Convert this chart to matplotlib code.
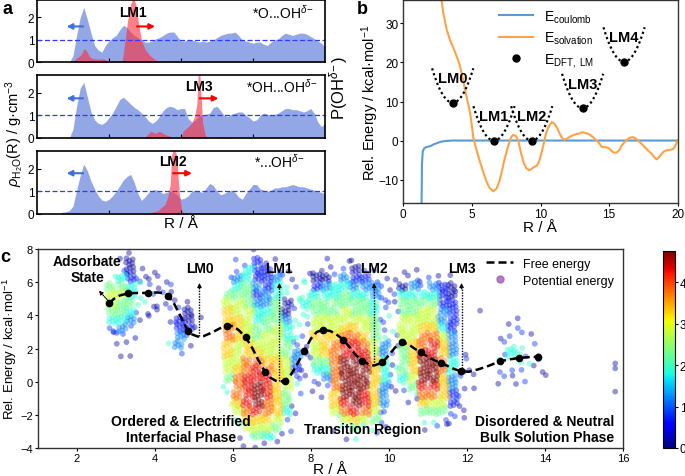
import numpy as np
import matplotlib
matplotlib.use("Agg")
import matplotlib.pyplot as plt
from matplotlib.colors import Normalize
from matplotlib.cm import ScalarMappable
from matplotlib.lines import Line2D

plt.rcParams['font.family'] = ['Liberation Sans', 'DejaVu Sans']
plt.rcParams['mathtext.fontset'] = 'custom'
plt.rcParams['mathtext.rm'] = 'Liberation Sans'
plt.rcParams['mathtext.it'] = 'Liberation Sans:italic'
plt.rcParams['mathtext.bf'] = 'Liberation Sans:bold'

# ---------------- panel a data ----------------
R_a = np.arange(1.5, 20.01, 0.25)
rho_O = [0, 0, 0, 0, 0.3, 1.2, 2.0, 2.45, 1.9, 1.3, 0.75, 0.55, 0.45, 0.75, 0.95, 1.1,
         1.2, 1.45, 1.65, 1.55, 1.35, 1.2, 1.1, 1.0, 0.9, 0.9, 0.95, 1.05, 1.1, 1.2, 1.3, 1.35,
         1.35, 1.15, 0.95, 0.95, 1.0, 1.0, 0.95, 0.9, 0.95, 0.9, 0.95, 1.0, 1.1, 1.2, 1.25, 1.3,
         1.3, 1.35, 1.2, 1.0, 0.95, 0.9, 0.85, 0.9, 0.9, 0.8, 0.75, 0.9, 1.0, 1.05, 1.2, 1.3,
         1.25, 1.2, 1.25, 1.3, 1.3, 1.25, 1.15, 1.05, 0.95, 0.85, 0.7]
rho_OH = [0, 0, 0, 0, 0.4, 1.4, 2.2, 2.45, 1.8, 1.15, 0.8, 0.65, 0.6, 0.7, 0.9, 1.1,
          1.4, 1.7, 1.8, 1.65, 1.5, 1.35, 1.25, 1.1, 0.95, 0.75, 0.65, 0.75, 0.95, 1.2, 1.35, 1.4,
          1.35, 1.25, 1.3, 1.3, 0.85, 0.7, 0.8, 1.0, 1.0, 1.05, 1.1, 1.35, 1.4, 1.2, 1.0, 0.95,
          1.05, 1.1, 1.15, 1.15, 1.0, 0.9, 0.75, 0.8, 1.0, 1.1, 1.05, 1.0, 1.05, 1.1, 1.2, 1.3,
          1.3, 1.25, 1.25, 1.2, 1.15, 1.2, 1.3, 1.1, 0.7, 0.5, 0.65]
rho_clean = [0, 0.08, 0.1, 0.15, 0.35, 1.05, 1.7, 2.2, 1.9, 1.45, 1.1, 0.8, 0.62, 0.57, 0.65, 0.8,
             1.0, 1.25, 1.5, 1.65, 1.75, 1.4, 0.9, 0.6, 0.75, 0.95, 1.05, 1.07, 1.0, 0.9, 0.95, 1.0,
             0.95, 0.85, 0.65, 0.7, 0.8, 1.0, 1.05, 1.0, 0.95, 1.15, 1.35, 1.25, 1.0, 0.85, 0.9, 1.0,
             1.05, 0.95, 0.75, 0.65, 0.9, 1.1, 1.3, 1.3, 1.1, 1.05, 1.0, 1.05, 1.15, 1.15, 1.2, 1.2,
             1.25, 1.3, 1.25, 1.2, 1.2, 1.15, 1.1, 1.05, 1.0, 0.95, 0.9]

P1_R = [2.5, 2.75, 3.0, 3.1, 3.3, 3.5, 3.6, 3.75, 4.0, 4.5, 4.75, 4.9, 5.9, 6.0, 6.1, 6.3,
        6.5, 6.7, 6.9, 7.05, 7.25, 7.5, 7.85, 8.2, 8.55]
P1_v = [0, 0.2, 0.3, 0.4, 0.62, 0.45, 0.3, 0.2, 0.15, 0.15, 0.12, 0, 0, 0.4, 0.9, 1.9,
        2.6, 2.9, 2.5, 1.75, 1.0, 0.58, 0.3, 0.12, 0]
P2_R = [7.5, 7.6, 7.9, 8.2, 8.5, 8.9, 9.2, 9.3, 10.0, 10.15, 10.5, 10.75, 10.95, 11.1, 11.2,
        11.3, 11.4, 11.5, 11.67, 11.8, 12.6, 13.0, 13.5, 13.7]
P2_v = [0, 0.1, 0.3, 0.2, 0.3, 0.15, 0.1, 0, 0, 0.3, 0.5, 0.66, 0.96, 1.5, 2.9,
        2.9, 1.8, 0.66, 0.15, 0, 0, 0.05, 0.03, 0]
P3_R = [7.7, 8.0, 8.4, 8.9, 9.1, 9.25, 9.35, 9.5, 9.7, 9.8, 9.9, 10.05, 10.2, 10.9]
P3_v = [0, 0.08, 0.15, 0.43, 0.8, 1.3, 2.6, 2.9, 2.6, 1.6, 0.8, 0.15, 0.03, 0]

# ---------------- panel b data ----------------
coul_R = [1.33, 1.36, 1.42, 1.52, 1.65, 2.0, 2.2, 2.5, 2.8, 3.2, 3.6, 20.0]
coul_E = [-17.0, -6.0, -2.8, -2.0, -1.7, -1.4, -1.0, -0.6, -0.25, -0.08, 0.0, 0.0]
solv_R = [2.75, 2.9, 3.16, 3.4, 3.65, 3.9, 4.13, 4.3, 4.5, 4.7, 4.86, 5.0, 5.1, 5.3, 5.59,
          5.85, 6.08, 6.3, 6.56, 6.8, 7.0, 7.17, 7.4, 7.65, 7.85, 8.0, 8.2, 8.38, 8.55, 8.75,
          8.95, 9.15, 9.35, 9.5, 9.72, 9.84, 10.0, 10.2, 10.4, 10.57, 10.81, 11.0, 11.18, 11.4,
          11.54, 11.71, 11.9, 12.15, 12.4, 12.64, 12.85, 13.0, 13.12, 13.3, 13.49, 13.7, 13.85,
          14.05, 14.22, 14.46, 14.7, 14.95, 15.15, 15.35, 15.55, 15.75, 15.92, 16.1, 16.28,
          16.5, 16.72, 16.95, 17.13, 17.35, 17.6, 17.85, 18.1, 18.3, 18.47, 18.65, 18.83, 19.0,
          19.2, 19.45, 19.7, 19.85, 20.0]
solv_E = [37, 33, 28.4, 25.8, 23.7, 21.5, 19.1, 16.5, 13.1, 9.8, 7.2, 3.8, 0.8, -2.0, -5.5,
          -8.3, -10.6, -12.2, -13.0, -12.3, -10.5, -8.0, -4.5, -1.3, 0.8, 1.45, 1.2, 0.0, -2.8, -5.5,
          -7.0, -7.6, -7.3, -6.8, -6.5, -5.8, -4.2, -1.3, 1.8, 3.4, 4.7, 4.4, 3.4, 1.8,
          0.85, 0.25, 0.4, 1.0, 1.4, 1.7, 1.8, 2.1, 2.1, 1.9, 1.7, 1.2, 0.85,
          0.1, -0.4, -1.6, -1.7, -1.9, -2.6, -3.1, -3.1, -2.4, -1.3, -0.5, 0.1,
          0.7, 0.9, 0.5, 0.0, -0.8, -1.7, -2.6, -3.4, -4.3, -4.8, -4.2, -3.4, -2.8,
          -2.5, -2.4, -2.1, -1.2, 0.0]
LM_names = ['LM0', 'LM1', 'LM2', 'LM3', 'LM4']
LM_R = [3.6, 6.61, 9.36, 13.07, 16.09]
LM_E = [9.7, 0.0, 0.0, 8.3, 20.2]

# ---------------- panel c data ----------------
fe_R = [2.82, 2.95, 3.1, 3.32, 3.55, 3.81, 4.05, 4.2, 4.33, 4.48, 4.62, 4.75, 4.84, 4.95, 5.1,
        5.25, 5.45, 5.65, 5.84, 6.0, 6.15, 6.33, 6.5, 6.65, 6.82, 6.95, 7.1, 7.2, 7.33, 7.45,
        7.6, 7.83, 8.0, 8.15, 8.32, 8.5, 8.65, 8.83, 9.0, 9.15, 9.32, 9.5, 9.62, 9.83, 10.0,
        10.15, 10.33, 10.5, 10.65, 10.82, 11.0, 11.15, 11.33, 11.5, 11.65, 11.85, 12.05, 12.3,
        12.55, 12.85, 13.1, 13.34, 13.6, 13.83]
fe_E = [4.73, 5.0, 5.2, 5.33, 5.35, 5.35, 5.38, 5.35, 5.19, 4.75, 4.1, 3.5, 3.08, 2.85, 2.72,
        2.75, 2.95, 3.2, 3.38, 3.35, 3.1, 2.67, 2.0, 1.3, 0.60, 0.25, 0.05, 0.0, 0.06, 0.3,
        0.85, 1.87, 2.6, 3.0, 3.13, 3.05, 2.85, 2.53, 2.05, 1.6, 1.26, 1.02, 0.97, 1.16, 1.6,
        2.05, 2.37, 2.25, 2.0, 1.77, 1.5, 1.3, 1.12, 0.95, 0.78, 0.62, 0.6, 0.75,
        0.95, 1.23, 1.35, 1.43, 1.48, 1.50]
fe_dot_R = [2.82, 3.32, 3.81, 4.33, 4.84, 5.84, 6.33, 6.82, 7.33, 7.83, 8.32, 8.83, 9.32,
            9.83, 10.33, 10.82, 11.33, 11.85, 12.85, 13.34, 13.83]
fe_dot_E = [4.73, 5.33, 5.35, 5.19, 3.08, 3.38, 2.67, 0.60, 0.06, 1.87, 3.13, 2.53, 1.26,
            1.16, 2.37, 1.77, 1.12, 0.62, 1.23, 1.43, 1.50]
LMc_names = ['LM0', 'LM1', 'LM2', 'LM3']
LMc_R = [5.14, 7.19, 9.62, 11.86]
LMc_E = [2.75, 0.05, 0.98, 0.65]

# Potential-energy point cloud, read as a density map:
# one string per R bin (0.25 A wide, from 2.5 A), one char per E bin (0.5 wide, from 8 down)
# digits = dense cell, colour level 0..9 ; letters = a few isolated points
cloud_R_start, cloud_dR, cloud_E_top, cloud_dE = 2.5, 0.25, 8.0, 0.5
cloud_cols = [
    ".... .... .... .... .... ....",  # 2.50
    "...c 4554 3Bp. .... .... ....",  # 2.75
    ".pb3 4544 32Bp p... .... ....",  # 3.00
    "p001 3343 2bpp p... .... ....",  # 3.25
    "..pB ccCb p... .... .... ....",  # 3.50
    "..pP bbpp p... .... .... ....",  # 3.75
    "...p pbpp .... .... .... ....",  # 4.00
    "...p bppb p..c .... .... ....",  # 4.25
    ".... ..pb 1122 b... .... ....",  # 4.50
    ".... ..p0 01bp .... .... ....",  # 4.75
    ".... .... pp.. .... .... ....",  # 5.00
    ".... .... .... .... .... ....",  # 5.25
    ".... .... .... .... .... ....",  # 5.50
    "...b c456 6776 6554 ccg. ....",  # 5.75
    ".bb2 3455 6665 5567 7765 ccp.",  # 6.00
    ".b33 4445 5556 6778 8887 65cp",  # 6.25
    "p111 2123 3445 6788 9998 654p",  # 6.50
    ".p11 1223 4455 5678 8877 653p",  # 6.75
    ".pb2 3344 4555 5666 6666 54cp",  # 7.00
    "..pb cc00 2334 4555 5443 bbp.",  # 7.25
    "...p bccb cCCB 221B cbpp ....",  # 7.50
    "..pc cC3C cbbp bppp .... ....",  # 7.75
    "..p0 1344 5565 543b pp.. ....",  # 8.00
    ".pp0 2344 5566 6432 bp.. ....",  # 8.25
    "..pb 3344 5567 7777 7665 cp..",  # 8.50
    ".pb2 3445 5678 8999 9987 5cp.",  # 8.75
    ".p01 2344 5678 8999 9998 64c.",  # 9.00
    "..b1 2344 5567 8899 9887 5c..",  # 9.25
    "..pb 2233 4445 5666 6665 4cp.",  # 9.50
    "...p bbBb Bbc2 2333 222B bp..",  # 9.75
    "...p pbpb ccbp bpcb pp.. ....",  # 10.00
    "..pp 0344 5554 4443 cbp. ....",  # 10.25
    "..pb 2344 5556 6665 4cp. ....",  # 10.50
    "...p b345 5677 8999 8764 cp..",  # 10.75
    "...b 2345 5678 8999 8754 cb..",  # 11.00
    "...p 1112 2356 6776 6654 bp..",  # 11.25
    "...p 0011 1122 2332 211b bp..",  # 11.50
    ".... .... .... pbPb pbpp p...",  # 11.75
    ".... .... .... ..pp p... ....",  # 12.00
    ".... ...p .... .... .... ....",  # 12.25
    ".... .... .... .... .... ....",  # 12.50
    ".... .... ..pb bcbb p... ....",  # 12.75
    ".... .... .pbc 3cbp .... ....",  # 13.00
    ".... .... pbbc Ccbb p... ....",  # 13.25
    ".... .... ..pb bcp. .... ....",  # 13.50
    ".... .... .... pbp. .... ....",  # 13.75
    ".... .... .... ...p .... ....",  # 14.00
]
dense_levels = [0.15, 0.7, 1.2, 1.8, 2.3, 2.8, 3.3, 3.8, 4.3, 4.75]
sparse_codes = {'p': (0.15, 1), 'P': (0.15, 2), 'b': (0.8, 1), 'B': (0.8, 2),
                'c': (1.9, 1), 'C': (1.9, 2), 'g': (2.8, 1), 'G': (2.8, 2)}
lone_R = [15.8, 15.8, 15.8]
lone_E = [1.1, 0.8, -0.6]

# ---------------- figure ----------------
W, H = 685, 477
fig = plt.figure(figsize=(W / 100, H / 100), dpi=100)


def ax_px(l, t, r, b):
    return fig.add_axes([l / W, 1 - b / H, (r - l) / W, (b - t) / H])


blue_fill = '#93a7e6'
red_fill = '#ff2b3b'
panels_a = [
    ((37, 1, 325, 63.3), rho_O, P1_R, P1_v, 'LM1', 6.67, 2.25, r'*O...OH$^{\delta\!-}$', 14.9,
     (6.94, 8.2), 1.6),
    ((37, 76, 325, 139), rho_OH, P2_R, P2_v, 'LM3', 11.25, 2.3, r'*OH...OH$^{\delta\!-}$', 14.5,
     (11.3, 12.6), 1.75),
    ((37, 152, 325, 215), rho_clean, P3_R, P3_v, 'LM2', 9.45, 2.35, r'*...OH$^{\delta\!-}$', 15.1,
     (9.45, 10.76), 1.8),
]
for box, rho, pR, pv, lm, lmx, lmy, lab, labx, rarr, ay in panels_a:
    ax = ax_px(*box)
    ax.fill_between(R_a, rho, 0, color=blue_fill, lw=0)
    ax.fill_between(pR, pv, 0, color=red_fill, alpha=0.6, lw=0)
    ax.axhline(1, color='#2b3cff', ls=(0, (4, 2)), lw=0.9)
    ax.set_xlim(0, 20)
    ax.set_ylim(0, 2.78)
    ax.set_yticks([0, 1, 2])
    ax.set_xticks([5, 10, 15])
    ax.set_xticklabels([])
    ax.tick_params(direction='in', length=3, labelsize=8.5, pad=2)
    for s in ax.spines.values():
        s.set_linewidth(1.2)
    ax.text(lmx, lmy, lm, ha='center', va='center', fontsize=10, fontweight='bold')
    ax.text(labx, lmy, lab, ha='left', va='center', fontsize=10)
    ax.annotate('', xy=(2.06, ay), xytext=(3.2, ay),
                arrowprops=dict(arrowstyle='-|>', color='#3f6fe0', lw=1.5, mutation_scale=8,
                                shrinkA=0, shrinkB=0))
    ax.annotate('', xy=(rarr[1], ay), xytext=(rarr[0], ay),
                arrowprops=dict(arrowstyle='-|>', color='red', lw=1.5, mutation_scale=8,
                                shrinkA=0, shrinkB=0))

fig.text(15 / W, 1 - 133 / H, r'$\rho_{\mathrm{H_2O}}$(R) / g·cm$^{-3}$', rotation=90,
         ha='center', va='center', fontsize=10.5)
fig.text(181 / W, 1 - 224 / H, 'R / Å', ha='center', va='center', fontsize=11)
fig.text(339 / W, 1 - 88 / H, r'P(OH$^{\delta\!-}$)', rotation=90, ha='center', va='center',
         fontsize=12)

# ---------------- panel b ----------------
axb = ax_px(403.3, 1, 677.7, 204)
axb.plot(coul_R, coul_E, color='#5b9bd5', lw=1.5, label=r'E$_{\mathrm{coulomb}}$')
axb.plot(solv_R, solv_E, color='#ffa245', lw=1.5, label=r'E$_{\mathrm{solvation}}$')
dx = np.linspace(-1.5, 1.5, 41)
for n, r0, e0 in zip(LM_names, LM_R, LM_E):
    axb.plot(r0 + dx, e0 + 8.8 * (dx / 1.5) ** 2, ls=(0, (1, 1.3)), color='black', lw=1.6)
    axb.text(r0, e0 + 6.2, n, ha='center', va='center', fontsize=10.5, fontweight='bold')
axb.plot(LM_R, LM_E, 'o', color='black', ms=5, ls='none', zorder=5,
         label=r'E$_{\mathrm{DFT,\ LM}}$')
axb.set_xlim(0, 20)
axb.set_ylim(-16, 36)
axb.set_xticks([0, 5, 10, 15, 20])
axb.set_yticks([-10, 0, 10, 20, 30])
axb.tick_params(direction='out', length=2.5, labelsize=8.5, pad=1)
for s in axb.spines.values():
    s.set_linewidth(1.0)
    s.set_color('#333333')
axb.legend(loc='upper left', bbox_to_anchor=(0.32, 1.0), frameon=False, fontsize=10,
           handlelength=2.4, labelspacing=0.35, borderaxespad=0.2)
fig.text(370 / W, 1 - 103 / H, r'Rel. Energy / kcal·mol$^{-1}$', rotation=90,
         ha='center', va='center', fontsize=10.5)
fig.text(540 / W, 1 - 228 / H, 'R / Å', ha='center', va='center', fontsize=11)

# ---------------- panel c ----------------
axc = ax_px(38, 250, 623, 449)
norm = Normalize(0, 4.75)
offs = [(0.2, 0.25), (0.55, 0.12), (0.85, 0.4), (0.15, 0.72), (0.5, 0.62), (0.82, 0.88)]
pts_R, pts_E, pts_L = [], [], []
for k, col in enumerate(cloud_cols):
    col = col.replace(' ', '')
    r0 = cloud_R_start + k * cloud_dR
    for j, ch in enumerate(col):
        if ch == '.':
            continue
        e0 = cloud_E_top - j * cloud_dE
        if ch.isdigit():
            lev, n, st = dense_levels[int(ch)], 6, 0
        else:
            lev, n = sparse_codes[ch]
            st = (k * 2 + j * 5) % 6
        sx = 0.13 * ((k * 7 + j * 3) % 5)
        sy = 0.11 * ((k * 3 + j * 5) % 7)
        for m in range(n):
            fx, fy = offs[(st + m) % 6]
            pts_R.append(r0 + ((fx + sx) % 1.0) * cloud_dR)
            pts_E.append(e0 - ((fy + sy) % 1.0) * cloud_dE)
            pts_L.append(lev)
for r, e in zip(lone_R, lone_E):
    pts_R.append(r)
    pts_E.append(e)
    pts_L.append(0.15)
order = np.argsort(pts_L, kind='stable')
axc.scatter(np.array(pts_R)[order], np.array(pts_E)[order], c=np.array(pts_L)[order],
            cmap='jet', norm=norm, s=17, alpha=0.42, linewidths=0, zorder=2)
axc.plot(fe_R, fe_E, color='black', lw=1.8, ls=(0, (3.2, 1.6)), zorder=5)
axc.plot(fe_dot_R, fe_dot_E, 'o', color='black', ms=4.5, ls='none', zorder=6)
for n, r0, e0 in zip(LMc_names, LMc_R, LMc_E):
    axc.plot([r0, r0], [e0, 5.85], ls=(0, (1, 1)), color='black', lw=1.0, zorder=6)
    axc.annotate('', xy=(r0, 5.95), xytext=(r0, 5.6),
                 arrowprops=dict(arrowstyle='-|>', color='black', lw=0.8, mutation_scale=6,
                                 shrinkA=0, shrinkB=0), zorder=6)
    axc.text(r0, 6.85, n, ha='center', va='center', fontsize=10, fontweight='bold')
axc.annotate('', xy=(2.56, 5.49), xytext=(2.8, 4.88),
             arrowprops=dict(arrowstyle='-|>', color='black', lw=0.8, ls=(0, (1, 1)),
                             mutation_scale=6, shrinkA=0, shrinkB=0))
axc.text(2.27, 6.8, 'Adsorbate\nState', ha='center', va='center', fontsize=10,
         fontweight='bold', linespacing=1.15)
axc.text(4.67, -2.86, 'Ordered & Electrified\nInterfacial Phase', ha='center', va='center',
         fontsize=10, fontweight='bold', linespacing=1.15)
axc.text(9.32, -2.88, 'Transition Region', ha='center', va='center', fontsize=10,
         fontweight='bold')
axc.text(15.77, -2.86, 'Disordered & Neutral\nBulk Solution Phase', ha='right', va='center',
         fontsize=10, fontweight='bold', linespacing=1.15)
axc.set_xlim(1, 16)
axc.set_ylim(-4, 8)
axc.set_xticks([2, 4, 6, 8, 10, 12, 14, 16])
axc.set_yticks([-4, -2, 0, 2, 4, 6, 8])
axc.tick_params(direction='out', length=2.5, labelsize=8, pad=1.2)
for s in axc.spines.values():
    s.set_linewidth(1.0)
    s.set_color('#333333')
h1 = Line2D([], [], color='black', lw=1.8, ls=(0, (3.2, 1.6)))
h2 = Line2D([], [], marker='o', ls='none', color='#a35bb5', alpha=0.8, ms=5)
axc.legend([h1, h2], ['Free energy', 'Potential energy'], loc='upper right',
           bbox_to_anchor=(1.0, 1.0), frameon=False, fontsize=9, handlelength=2.2,
           labelspacing=0.4, borderaxespad=0.3)
fig.text(10 / W, 1 - 349 / H, r'Rel. Energy / kcal·mol$^{-1}$', rotation=90,
         ha='center', va='center', fontsize=9.5)
fig.text(330 / W, 1 - 470 / H, 'R / Å', ha='center', va='center', fontsize=11)

cax = ax_px(663, 252, 675, 449)
cb = fig.colorbar(ScalarMappable(norm=norm, cmap='jet'), cax=cax, ticks=[0, 1, 2, 3, 4])
cb.ax.tick_params(labelsize=8.5, length=2.5, pad=1)
cb.outline.set_linewidth(0.8)

fig.text(8 / W, 1 - 10 / H, 'a', fontsize=13, fontweight='bold', ha='center', va='center')
fig.text(362 / W, 1 - 10 / H, 'b', fontsize=13, fontweight='bold', ha='center', va='center')
fig.text(5 / W, 1 - 258 / H, 'c', fontsize=13, fontweight='bold', ha='center', va='center')

fig.savefig('out.png', dpi=100)
